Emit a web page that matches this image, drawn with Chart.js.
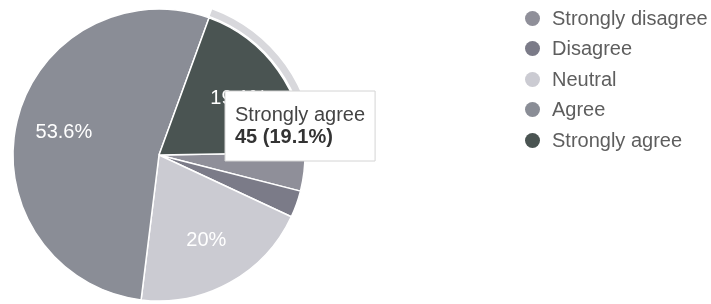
<!DOCTYPE html>
<html>
<head>
<meta charset="utf-8">
<script src="https://cdn.jsdelivr.net/npm/chart.js@4/dist/chart.umd.min.js"></script>
<style>
  body { margin: 0; background: #fff; }
  #wrap { position: relative; width: 711px; height: 304px; font-family: "Liberation Sans", Arial, sans-serif; }
  #legend { position: absolute; left: 525px; top: 3px; list-style: none; margin: 0; padding: 0; }
  #legend li { height: 30.5px; display: flex; align-items: center; font-size: 20px; color: #5e5e5e; white-space: nowrap; }
  #legend .dot { width: 15px; height: 15px; border-radius: 50%; margin-right: 12px; }
</style>
</head>
<body>
<div id="wrap">
  <canvas id="pie" width="711" height="304"></canvas>
  <ul id="legend"></ul>
</div>
<script>
// answers, in legend order
const answers = ['Strongly disagree', 'Disagree', 'Neutral', 'Agree', 'Strongly agree'];
const counts = [10, 7, 47, 126, 45];
const sliceColors = ['#8f8f99', '#7b7b88', '#cbcbd2', '#8a8d96', '#4a5452'];
const hoveredIndex = 4; // the tooltip is open on "Strongly agree"

const total = counts.reduce((a, b) => a + b, 0);

function pct(v) {
    let s = (v / total * 100).toFixed(1);
    if (s.endsWith('.0')) s = s.slice(0, -2);
    return s + '%';
}

// percentage text inside the big slices
const sliceLabels = {
    id: 'sliceLabels',
    afterDatasetsDraw(chart) {
        const ctx = chart.ctx;
        const meta = chart.getDatasetMeta(0);
        ctx.save();
        ctx.font = '20px "Liberation Sans", Arial, sans-serif';
        ctx.fillStyle = '#ffffff';
        ctx.textAlign = 'center';
        ctx.textBaseline = 'middle';
        meta.data.forEach((arc, i) => {
            if (counts[i] / total < 0.1) return;
            const mid = (arc.startAngle + arc.endAngle) / 2;
            const r = arc.outerRadius * 0.67;
            ctx.fillText(pct(counts[i]), arc.x + Math.cos(mid) * r, arc.y + Math.sin(mid) * r);
        });
        ctx.restore();
    }
};

// light ring around the hovered slice
const hoverRing = {
    id: 'hoverRing',
    afterDatasetsDraw(chart) {
        const ctx = chart.ctx;
        chart.getActiveElements().forEach(a => {
            const arc = a.element;
            ctx.save();
            ctx.beginPath();
            ctx.arc(arc.x, arc.y, arc.outerRadius + 9, arc.startAngle, arc.endAngle);
            ctx.arc(arc.x, arc.y, arc.outerRadius + 2, arc.endAngle, arc.startAngle, true);
            ctx.closePath();
            ctx.fillStyle = '#d8d8dc';
            ctx.fill();
            ctx.restore();
        });
    }
};

Chart.Tooltip.positioners.fixedBox = function () {
    return { x: 225, y: 91 };
};

const chart = new Chart(document.getElementById('pie'), {
    type: 'pie',
    data: {
        labels: answers,
        datasets: [{
            data: counts,
            backgroundColor: sliceColors,
            hoverBackgroundColor: sliceColors,
            borderColor: '#ffffff',
            hoverBorderColor: '#ffffff',
            borderWidth: 1.5,
            hoverOffset: 0
        }]
    },
    options: {
        responsive: false,
        animation: false,
        rotation: 89,
        radius: 146,
        layout: { padding: { top: 8, bottom: 2, left: 13, right: 406 } },
        events: [],
        plugins: {
            legend: { display: false },
            tooltip: {
                position: 'fixedBox',
                xAlign: 'left',
                yAlign: 'top',
                caretSize: 0,
                caretPadding: 0,
                cornerRadius: 0,
                displayColors: false,
                backgroundColor: '#ffffff',
                borderColor: '#d4d4d4',
                borderWidth: 1,
                padding: { top: 13, bottom: 13, left: 10, right: 10 },
                titleColor: '#444444',
                bodyColor: '#333333',
                titleFont: { family: '"Liberation Sans", Arial, sans-serif', size: 20, weight: 'normal', lineHeight: 1.1 },
                bodyFont: { family: '"Liberation Sans", Arial, sans-serif', size: 20, weight: 'bold', lineHeight: 1.1 },
                titleMarginBottom: 0,
                callbacks: {
                    title: items => items[0].label,
                    label: item => item.raw + ' (' + pct(item.raw) + ')'
                }
            }
        }
    },
    plugins: [hoverRing, sliceLabels]
});

chart.setActiveElements([{ datasetIndex: 0, index: hoveredIndex }]);
chart.tooltip.setActiveElements([{ datasetIndex: 0, index: hoveredIndex }], { x: 0, y: 0 });
chart.update();

// legend built from the same arrays
const legend = document.getElementById('legend');
answers.forEach((name, i) => {
    const li = document.createElement('li');
    li.innerHTML = '<span class="dot" style="background:' + sliceColors[i] + '"></span>' + name;
    legend.appendChild(li);
});
</script>
</body>
</html>
